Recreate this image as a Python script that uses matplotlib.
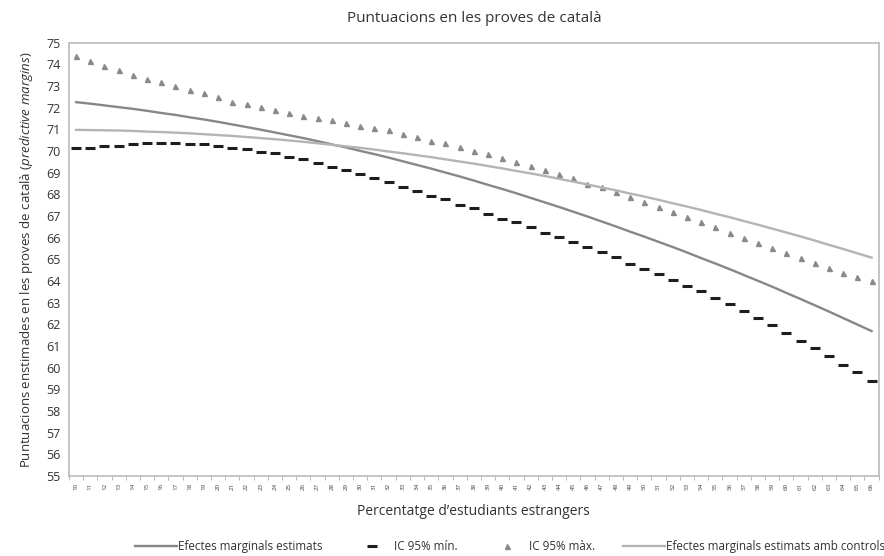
import matplotlib
matplotlib.use('Agg')
import matplotlib.pyplot as plt

plt.rcParams['font.family'] = ['Open Sans', 'DejaVu Sans']
plt.rcParams['mathtext.fontset'] = 'custom'
plt.rcParams['mathtext.it'] = 'Open Sans:italic'
plt.rcParams['mathtext.rm'] = 'Open Sans'

# percentatge d'estudiants estrangers (10..66)
pct = list(range(10, 67))

efectes = [72.26, 72.19, 72.11, 72.03, 71.95, 71.86, 71.76, 71.67, 71.56, 71.46,
           71.35, 71.23, 71.11, 70.99, 70.86, 70.73, 70.60, 70.46, 70.31, 70.17,
           70.01, 69.86, 69.70, 69.53, 69.36, 69.19, 69.01, 68.83, 68.64, 68.44,
           68.25, 68.05, 67.84, 67.63, 67.42, 67.20, 66.98, 66.75, 66.52, 66.28,
           66.05, 65.81, 65.57, 65.32, 65.06, 64.81, 64.55, 64.28, 64.01, 63.74,
           63.45, 63.17, 62.88, 62.59, 62.29, 61.99, 61.69]

ic_min = [70.13, 70.16, 70.25, 70.25, 70.31, 70.39, 70.39, 70.39, 70.33, 70.31,
          70.25, 70.13, 70.10, 69.97, 69.90, 69.72, 69.63, 69.46, 69.28, 69.12,
          68.93, 68.77, 68.58, 68.33, 68.18, 67.93, 67.78, 67.53, 67.36, 67.11,
          66.88, 66.73, 66.48, 66.24, 66.03, 65.78, 65.55, 65.32, 65.10, 64.79,
          64.56, 64.33, 64.05, 63.76, 63.52, 63.21, 62.93, 62.60, 62.29, 61.95,
          61.59, 61.23, 60.91, 60.55, 60.14, 59.79, 59.38]

ic_max = [74.40, 74.15, 73.92, 73.76, 73.53, 73.34, 73.17, 72.99, 72.82, 72.67,
          72.48, 72.29, 72.17, 72.04, 71.88, 71.78, 71.64, 71.52, 71.43, 71.30,
          71.18, 71.05, 70.98, 70.79, 70.67, 70.48, 70.36, 70.21, 70.02, 69.86,
          69.66, 69.49, 69.32, 69.15, 68.92, 68.74, 68.50, 68.33, 68.12, 67.87,
          67.65, 67.40, 67.17, 66.96, 66.71, 66.48, 66.23, 66.00, 65.77, 65.53,
          65.30, 65.06, 64.84, 64.59, 64.37, 64.19, 63.99]

controls = [70.98, 70.97, 70.96, 70.95, 70.93, 70.90, 70.88, 70.85, 70.82, 70.78,
            70.74, 70.70, 70.65, 70.60, 70.55, 70.49, 70.43, 70.36, 70.29, 70.22,
            70.15, 70.07, 69.98, 69.90, 69.81, 69.72, 69.62, 69.52, 69.42, 69.31,
            69.20, 69.08, 68.97, 68.85, 68.72, 68.59, 68.46, 68.32, 68.19, 68.04,
            67.90, 67.75, 67.59, 67.44, 67.28, 67.11, 66.95, 66.77, 66.60, 66.42,
            66.24, 66.06, 65.87, 65.67, 65.48, 65.28, 65.08]

y_ticks = list(range(55, 76))

fig = plt.figure(figsize=(8.84, 5.56), dpi=100)
ax = fig.add_axes([0.078, 0.144, 0.916, 0.779])

x = list(range(len(pct)))
ax.plot(x, efectes, color='#878787', lw=1.7, label='Efectes marginals estimats')
ax.plot(x, ic_min, ls='none', marker='_', ms=7.5, mew=2.2, color='#1e1e1e', label='IC 95% mín.')
ax.plot(x, ic_max, ls='none', marker='^', ms=3.6, color='#8a8a8a', label='IC 95% màx.')
ax.plot(x, controls, color='#b4b4b4', lw=1.7, label='Efectes marginals estimats amb controls')

ax.set_xlim(-0.5, len(pct) - 0.5)
ax.set_ylim(55, 75)
ax.set_yticks(y_ticks)
ax.set_yticklabels([str(v) for v in y_ticks], fontsize=9, color='#333333')
ax.tick_params(axis='y', length=0, pad=6)

# etiquetes al centre de cada categoria, marques entre categories
ax.set_xticks(x)
ax.set_xticklabels([str(p) for p in pct], rotation=90, fontsize=4.5, color='#444444')
ax.set_xticks([i - 0.5 for i in range(len(pct) + 1)], minor=True)
ax.tick_params(axis='x', which='major', length=0, pad=5)
ax.tick_params(axis='x', which='minor', length=3, color='#aaaaaa')

for s in ax.spines.values():
    s.set_color('#bbbbbb')
    s.set_linewidth(1.2)

ax.set_title('Puntuacions en les proves de català', fontsize=11, color='#333333', pad=15)
ax.set_xlabel("Percentatge d’estudiants estrangers", fontsize=10, color='#333333', labelpad=10)
ax.set_ylabel(r'Puntuacions enstimades en les proves de català ($\it{predictive\ margins}$)',
              fontsize=9.5, color='#333333', labelpad=8)

fig.legend(loc='lower center', ncol=4, frameon=False, handlelength=3.6, fontsize=8.4,
           numpoints=1, columnspacing=2.4, handletextpad=0.1, bbox_to_anchor=(0.577, -0.013),
           labelcolor='#333333')

plt.savefig('out.png', dpi=100)
